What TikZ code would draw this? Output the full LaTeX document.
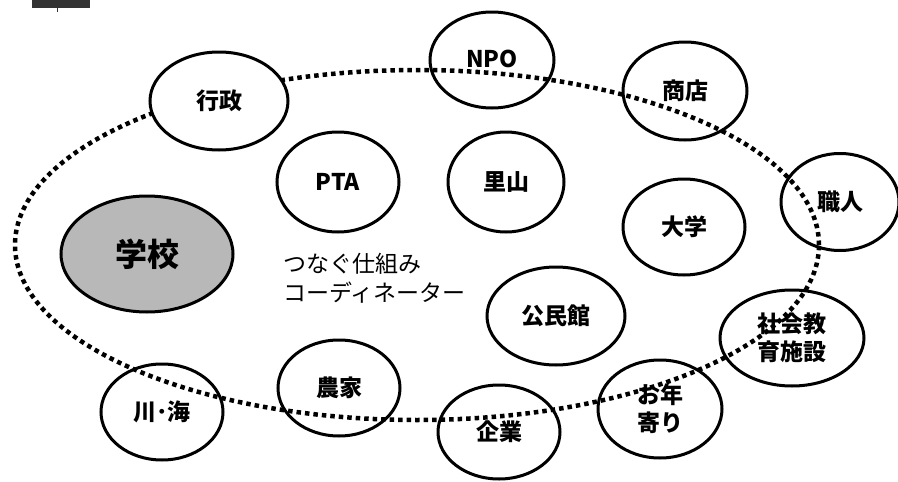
\documentclass[tikz,border=0pt]{standalone}
\usepackage{fontspec}
\setmainfont{Noto Sans CJK JP}
\usetikzlibrary{shapes.geometric}
\tikzset{
  org/.style={ellipse, draw, line width=3pt, inner sep=0pt, align=center,
    font=\fontsize{23}{28}\selectfont\bfseries},
  sz/.style 2 args={minimum width=#1, minimum height=#2},
  ring/.style={ellipse, draw, line width=4.5pt, dash pattern=on 4.5pt off 4pt, inner sep=0pt},
  note/.style={align=left, inner sep=0pt, font=\fontsize{23}{29}\selectfont},
}
\begin{document}
\begin{tikzpicture}[x=1pt,y=-1pt]
\useasboundingbox (0,0) rectangle (898,482);
% scrap of header graphic at top-left
\fill[black!80] (32,0) rectangle (90,8);
\draw[black!80, line width=1pt] (57,8) -- (57,12);
% dotted ring
\node[ring, sz={804pt}{350pt}] (ring) at (417,245) {};
% organisations
\node[org, sz={138pt}{98pt}, fill=white] (gyosei) at (219,101) {行政};
\node[org, sz={124pt}{96pt}] (npo) at (492,60) {\raisebox{2pt}{NPO}};
\node[org, sz={124pt}{98pt}] (shoten) at (685,91) {商店};
\node[org, sz={118pt}{97pt}] (shokunin) at (840,202) {職人};
\node[org, sz={122pt}{96pt}] (daigaku) at (684,227) {大学};
\node[org, sz={122pt}{100pt}] (pta) at (338,182) {PTA};
\node[org, sz={116pt}{100pt}] (satoyama) at (506,182) {里山};
\node[org, sz={138pt}{98pt}] (kominkan) at (556,316) {公民館};
\node[org, sz={144pt}{96pt}] (shakai) at (792,338) {社会教\\育施設};
\node[org, sz={124pt}{98pt}] (otoshiyori) at (660,409) {お年\\寄り};
\node[org, sz={122pt}{94pt}] (kigyo) at (499,432) {企業};
\node[org, sz={122pt}{96pt}] (noka) at (339,388) {農家};
\node[org, sz={122pt}{96pt}] (kawaumi) at (162,412) {川･海};
% school
\node[org, sz={172pt}{116pt}, fill=black!28, font=\fontsize{32}{36}\selectfont\bfseries] (gakko) at (147,254) {学校};
% coordinator text
\node[note, anchor=west] (tsunagu) at (283,278) {つなぐ仕組み\\コーディネーター};
\end{tikzpicture}
\end{document}
